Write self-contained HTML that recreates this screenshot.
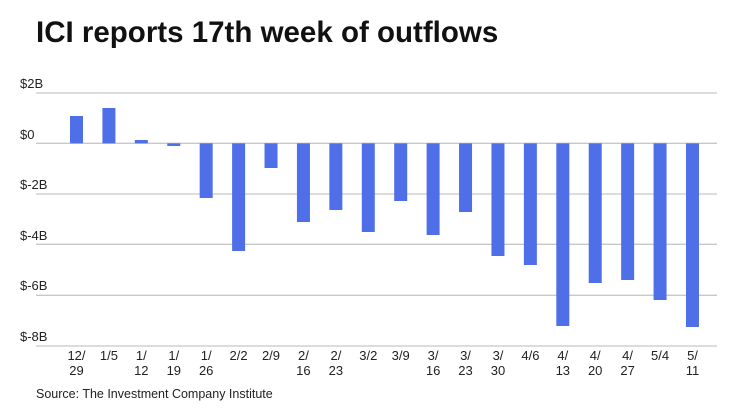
<!DOCTYPE html>
<html><head><meta charset="utf-8"><style>
html,body{margin:0;padding:0;background:#fff;}
svg{display:block;font-family:"Liberation Sans",sans-serif;}
</style></head><body>
<svg width="740" height="416" viewBox="0 0 740 416">
<text x="36" y="42" font-size="29.5" font-weight="bold" fill="#111">ICI reports 17th week of outflows</text>
<g stroke="#c8c8c8" stroke-width="1.3">
<line x1="36" x2="717" y1="93" y2="93"/>
<line x1="36" x2="717" y1="143.3" y2="143.3"/>
<line x1="36" x2="717" y1="194" y2="194"/>
<line x1="36" x2="717" y1="244.3" y2="244.3"/>
<line x1="36" x2="717" y1="295.3" y2="295.3"/>
<line x1="36" x2="717" y1="346" y2="346"/>
</g>
<g font-size="13" fill="#222">
<text x="20" y="88">$2B</text>
<text x="20" y="139">$0</text>
<text x="20" y="189">$-2B</text>
<text x="20" y="240">$-4B</text>
<text x="20" y="290">$-6B</text>
<text x="20" y="341">$-8B</text>
</g>
<g fill="#4f6fe8">
<rect x="70" width="13" y="116" height="27.3"/>
<rect x="102.42" width="13" y="108" height="35.3"/>
<rect x="134.84" width="13" y="140" height="3.3"/>
<rect x="167.26" width="13" y="143.3" height="2.7"/>
<rect x="199.68" width="13" y="143.3" height="54.7"/>
<rect x="232.1" width="13" y="143.3" height="107.7"/>
<rect x="264.52" width="13" y="143.3" height="24.7"/>
<rect x="296.94" width="13" y="143.3" height="78.7"/>
<rect x="329.36" width="13" y="143.3" height="66.7"/>
<rect x="361.78" width="13" y="143.3" height="88.7"/>
<rect x="394.2" width="13" y="143.3" height="57.7"/>
<rect x="426.62" width="13" y="143.3" height="91.7"/>
<rect x="459.04" width="13" y="143.3" height="68.7"/>
<rect x="491.46" width="13" y="143.3" height="112.7"/>
<rect x="523.88" width="13" y="143.3" height="121.7"/>
<rect x="556.3" width="13" y="143.3" height="182.7"/>
<rect x="588.72" width="13" y="143.3" height="139.7"/>
<rect x="621.14" width="13" y="143.3" height="136.7"/>
<rect x="653.56" width="13" y="143.3" height="156.7"/>
<rect x="685.98" width="13" y="143.3" height="183.7"/>
</g>
<g font-size="13" fill="#222" text-anchor="middle">
<text x="76.5" y="360">12/</text><text x="76.5" y="375">29</text>
<text x="108.9" y="360">1/5</text>
<text x="141.3" y="360">1/</text><text x="141.3" y="375">12</text>
<text x="173.8" y="360">1/</text><text x="173.8" y="375">19</text>
<text x="206.2" y="360">1/</text><text x="206.2" y="375">26</text>
<text x="238.6" y="360">2/2</text>
<text x="271" y="360">2/9</text>
<text x="303.4" y="360">2/</text><text x="303.4" y="375">16</text>
<text x="335.9" y="360">2/</text><text x="335.9" y="375">23</text>
<text x="368.3" y="360">3/2</text>
<text x="400.7" y="360">3/9</text>
<text x="433.1" y="360">3/</text><text x="433.1" y="375">16</text>
<text x="465.5" y="360">3/</text><text x="465.5" y="375">23</text>
<text x="498" y="360">3/</text><text x="498" y="375">30</text>
<text x="530.4" y="360">4/6</text>
<text x="562.8" y="360">4/</text><text x="562.8" y="375">13</text>
<text x="595.2" y="360">4/</text><text x="595.2" y="375">20</text>
<text x="627.6" y="360">4/</text><text x="627.6" y="375">27</text>
<text x="660.1" y="360">5/4</text>
<text x="692.5" y="360">5/</text><text x="692.5" y="375">11</text>
</g>
<text x="36" y="398" font-size="12.5" fill="#222">Source: The Investment Company Institute</text>
</svg>
</body></html>
